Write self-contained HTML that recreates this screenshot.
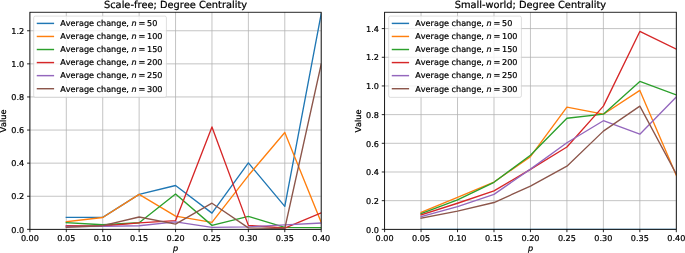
<!DOCTYPE html>
<html><head><meta charset="utf-8"><title>Degree Centrality</title>
<style>
html,body{margin:0;padding:0;background:#fff;overflow:hidden}
svg{display:block;text-rendering:geometricPrecision;}
text{font-kerning:none;stroke:#000;stroke-width:0.22px;font-family:"DejaVu Sans","Liberation Sans",sans-serif;fill:#000}
</style></head><body>
<svg width="685" height="253" viewBox="0 0 685 253">
<rect width="685" height="253" fill="#fff"/>
<clipPath id="c1"><rect x="29.90" y="12.25" width="291.30" height="217.10"/></clipPath>
<path d="M29.90 12.25V229.35M66.31 12.25V229.35M102.72 12.25V229.35M139.14 12.25V229.35M175.55 12.25V229.35M211.96 12.25V229.35M248.38 12.25V229.35M284.79 12.25V229.35M321.20 12.25V229.35M29.90 229.35H321.20M29.90 196.25H321.20M29.90 163.15H321.20M29.90 130.05H321.20M29.90 96.95H321.20M29.90 63.85H321.20M29.90 30.75H321.20" stroke="#b0b0b0" stroke-width="0.75" fill="none"/>
<g clip-path="url(#c1)" fill="none" stroke-width="1.35" stroke-linejoin="round" stroke-linecap="square">
<polyline points="66.31,217.35 102.72,217.35 139.14,194.43 175.55,185.49 211.96,213.13 248.37,162.90 284.79,206.40 321.20,13.70" stroke="#1f77b4"/>
<polyline points="66.31,221.74 102.72,217.52 139.14,194.43 175.55,216.11 211.96,222.40 248.37,175.56 284.79,132.53 321.20,222.40" stroke="#ff7f0e"/>
<polyline points="66.31,222.73 102.72,224.72 139.14,222.73 175.55,193.93 211.96,225.38 248.37,216.44 284.79,227.36 321.20,227.61" stroke="#2ca02c"/>
<polyline points="66.31,225.71 102.72,226.04 139.14,222.90 175.55,220.66 211.96,126.96 248.37,225.38 284.79,228.03 321.20,212.88" stroke="#d62728"/>
<polyline points="66.31,226.54 102.72,226.37 139.14,225.71 175.55,221.90 211.96,227.36 248.37,226.87 284.79,224.88 321.20,223.06" stroke="#9467bd"/>
<polyline points="66.31,227.20 102.72,225.71 139.14,217.02 175.55,224.05 211.96,203.20 248.37,227.86 284.79,228.52 321.20,64.18" stroke="#8c564b"/>
</g>
<path d="M29.90 229.35v2.83M66.31 229.35v2.83M102.72 229.35v2.83M139.14 229.35v2.83M175.55 229.35v2.83M211.96 229.35v2.83M248.38 229.35v2.83M284.79 229.35v2.83M321.20 229.35v2.83M29.90 229.35h-2.83M29.90 196.25h-2.83M29.90 163.15h-2.83M29.90 130.05h-2.83M29.90 96.95h-2.83M29.90 63.85h-2.83M29.90 30.75h-2.83" stroke="#000" stroke-width="0.85" fill="none"/>
<rect x="29.90" y="12.25" width="291.30" height="217.10" fill="none" stroke="#000" stroke-width="0.85"/>
<g font-size="8.1" text-anchor="middle">
<text x="29.90" y="241.30">0.00</text>
<text x="66.31" y="241.30">0.05</text>
<text x="102.72" y="241.30">0.10</text>
<text x="139.14" y="241.30">0.15</text>
<text x="175.55" y="241.30">0.20</text>
<text x="211.96" y="241.30">0.25</text>
<text x="248.38" y="241.30">0.30</text>
<text x="284.79" y="241.30">0.35</text>
<text x="321.20" y="241.30">0.40</text>
</g>
<g font-size="8.1" text-anchor="end">
<text x="24.18" y="232.55">0.0</text>
<text x="24.18" y="199.45">0.2</text>
<text x="24.18" y="166.35">0.4</text>
<text x="24.18" y="133.25">0.6</text>
<text x="24.18" y="100.15">0.8</text>
<text x="24.18" y="67.05">1.0</text>
<text x="24.18" y="33.95">1.2</text>
</g>
<text x="175.55" y="251.45" font-size="8.1" font-style="italic" text-anchor="middle">p</text>
<text transform="translate(6.20 121.05) rotate(-90)" font-size="8.1" text-anchor="middle">Value</text>
<text x="175.55" y="7.7" font-size="9.82" text-anchor="middle">Scale-free; Degree Centrality</text>
<rect x="33.70" y="16.10" width="132.7" height="81.25" rx="1.6" ry="1.6" fill="#fff" fill-opacity="0.8" stroke="#ccc" stroke-opacity="0.8" stroke-width="0.81"/>
<path d="M36.75 23.40H54.10" stroke="#1f77b4" stroke-width="1.45" fill="none"/>
<text font-size="8.1" y="26.20"><tspan x="60.30">Average change, </tspan><tspan x="131.40" font-style="italic">n </tspan><tspan x="138.50">= </tspan><tspan x="147.00">50</tspan></text>
<path d="M36.75 36.46H54.10" stroke="#ff7f0e" stroke-width="1.45" fill="none"/>
<text font-size="8.1" y="39.26"><tspan x="60.30">Average change, </tspan><tspan x="131.40" font-style="italic">n </tspan><tspan x="138.50">= </tspan><tspan x="147.00">100</tspan></text>
<path d="M36.75 49.52H54.10" stroke="#2ca02c" stroke-width="1.45" fill="none"/>
<text font-size="8.1" y="52.32"><tspan x="60.30">Average change, </tspan><tspan x="131.40" font-style="italic">n </tspan><tspan x="138.50">= </tspan><tspan x="147.00">150</tspan></text>
<path d="M36.75 62.58H54.10" stroke="#d62728" stroke-width="1.45" fill="none"/>
<text font-size="8.1" y="65.38"><tspan x="60.30">Average change, </tspan><tspan x="131.40" font-style="italic">n </tspan><tspan x="138.50">= </tspan><tspan x="147.00">200</tspan></text>
<path d="M36.75 75.64H54.10" stroke="#9467bd" stroke-width="1.45" fill="none"/>
<text font-size="8.1" y="78.44"><tspan x="60.30">Average change, </tspan><tspan x="131.40" font-style="italic">n </tspan><tspan x="138.50">= </tspan><tspan x="147.00">250</tspan></text>
<path d="M36.75 88.70H54.10" stroke="#8c564b" stroke-width="1.45" fill="none"/>
<text font-size="8.1" y="91.50"><tspan x="60.30">Average change, </tspan><tspan x="131.40" font-style="italic">n </tspan><tspan x="138.50">= </tspan><tspan x="147.00">300</tspan></text>
<clipPath id="c2"><rect x="384.60" y="12.25" width="291.70" height="217.10"/></clipPath>
<path d="M384.60 12.25V229.35M421.06 12.25V229.35M457.52 12.25V229.35M493.99 12.25V229.35M530.45 12.25V229.35M566.91 12.25V229.35M603.38 12.25V229.35M639.84 12.25V229.35M676.30 12.25V229.35M384.60 229.35H676.30M384.60 200.67H676.30M384.60 171.99H676.30M384.60 143.31H676.30M384.60 114.63H676.30M384.60 85.95H676.30M384.60 57.27H676.30M384.60 28.59H676.30" stroke="#b0b0b0" stroke-width="0.75" fill="none"/>
<g clip-path="url(#c2)" fill="none" stroke-width="1.35" stroke-linejoin="round" stroke-linecap="square">
<polyline points="421.06,229.35 457.52,229.35 493.99,229.35 530.45,229.35 566.91,229.35 603.38,229.35 639.84,229.35 676.30,229.35" stroke="#1f77b4"/>
<polyline points="421.06,212.43 457.52,197.37 493.99,182.03 530.45,156.65 566.91,107.17 603.38,114.20 639.84,90.40 676.30,175.43" stroke="#ff7f0e"/>
<polyline points="421.06,213.58 457.52,199.95 493.99,182.31 530.45,155.21 566.91,118.21 603.38,114.20 639.84,81.45 676.30,94.90" stroke="#2ca02c"/>
<polyline points="421.06,214.87 457.52,203.25 493.99,190.92 530.45,169.41 566.91,146.97 603.38,106.17 639.84,31.46 676.30,49.15" stroke="#d62728"/>
<polyline points="421.06,216.59 457.52,206.69 493.99,194.36 530.45,169.12 566.91,142.74 603.38,120.71 639.84,134.19 676.30,96.91" stroke="#9467bd"/>
<polyline points="421.06,218.16 457.52,211.14 493.99,202.53 530.45,186.11 566.91,166.18 603.38,131.12 639.84,106.10 676.30,174.00" stroke="#8c564b"/>
</g>
<path d="M384.60 229.35v2.83M421.06 229.35v2.83M457.52 229.35v2.83M493.99 229.35v2.83M530.45 229.35v2.83M566.91 229.35v2.83M603.38 229.35v2.83M639.84 229.35v2.83M676.30 229.35v2.83M384.60 229.35h-2.83M384.60 200.67h-2.83M384.60 171.99h-2.83M384.60 143.31h-2.83M384.60 114.63h-2.83M384.60 85.95h-2.83M384.60 57.27h-2.83M384.60 28.59h-2.83" stroke="#000" stroke-width="0.85" fill="none"/>
<rect x="384.60" y="12.25" width="291.70" height="217.10" fill="none" stroke="#000" stroke-width="0.85"/>
<g font-size="8.1" text-anchor="middle">
<text x="384.60" y="241.30">0.00</text>
<text x="421.06" y="241.30">0.05</text>
<text x="457.52" y="241.30">0.10</text>
<text x="493.99" y="241.30">0.15</text>
<text x="530.45" y="241.30">0.20</text>
<text x="566.91" y="241.30">0.25</text>
<text x="603.38" y="241.30">0.30</text>
<text x="639.84" y="241.30">0.35</text>
<text x="676.30" y="241.30">0.40</text>
</g>
<g font-size="8.1" text-anchor="end">
<text x="378.88" y="232.55">0.0</text>
<text x="378.88" y="203.87">0.2</text>
<text x="378.88" y="175.19">0.4</text>
<text x="378.88" y="146.51">0.6</text>
<text x="378.88" y="117.83">0.8</text>
<text x="378.88" y="89.15">1.0</text>
<text x="378.88" y="60.47">1.2</text>
<text x="378.88" y="31.79">1.4</text>
</g>
<text x="530.45" y="251.45" font-size="8.1" font-style="italic" text-anchor="middle">p</text>
<text transform="translate(361.40 121.05) rotate(-90)" font-size="8.1" text-anchor="middle">Value</text>
<text x="530.45" y="7.7" font-size="9.82" text-anchor="middle">Small-world; Degree Centrality</text>
<rect x="388.70" y="16.10" width="132.7" height="81.25" rx="1.6" ry="1.6" fill="#fff" fill-opacity="0.8" stroke="#ccc" stroke-opacity="0.8" stroke-width="0.81"/>
<path d="M391.75 23.40H409.10" stroke="#1f77b4" stroke-width="1.45" fill="none"/>
<text font-size="8.1" y="26.20"><tspan x="415.30">Average change, </tspan><tspan x="486.40" font-style="italic">n </tspan><tspan x="493.50">= </tspan><tspan x="502.00">50</tspan></text>
<path d="M391.75 36.46H409.10" stroke="#ff7f0e" stroke-width="1.45" fill="none"/>
<text font-size="8.1" y="39.26"><tspan x="415.30">Average change, </tspan><tspan x="486.40" font-style="italic">n </tspan><tspan x="493.50">= </tspan><tspan x="502.00">100</tspan></text>
<path d="M391.75 49.52H409.10" stroke="#2ca02c" stroke-width="1.45" fill="none"/>
<text font-size="8.1" y="52.32"><tspan x="415.30">Average change, </tspan><tspan x="486.40" font-style="italic">n </tspan><tspan x="493.50">= </tspan><tspan x="502.00">150</tspan></text>
<path d="M391.75 62.58H409.10" stroke="#d62728" stroke-width="1.45" fill="none"/>
<text font-size="8.1" y="65.38"><tspan x="415.30">Average change, </tspan><tspan x="486.40" font-style="italic">n </tspan><tspan x="493.50">= </tspan><tspan x="502.00">200</tspan></text>
<path d="M391.75 75.64H409.10" stroke="#9467bd" stroke-width="1.45" fill="none"/>
<text font-size="8.1" y="78.44"><tspan x="415.30">Average change, </tspan><tspan x="486.40" font-style="italic">n </tspan><tspan x="493.50">= </tspan><tspan x="502.00">250</tspan></text>
<path d="M391.75 88.70H409.10" stroke="#8c564b" stroke-width="1.45" fill="none"/>
<text font-size="8.1" y="91.50"><tspan x="415.30">Average change, </tspan><tspan x="486.40" font-style="italic">n </tspan><tspan x="493.50">= </tspan><tspan x="502.00">300</tspan></text>
</svg>
</body></html>
